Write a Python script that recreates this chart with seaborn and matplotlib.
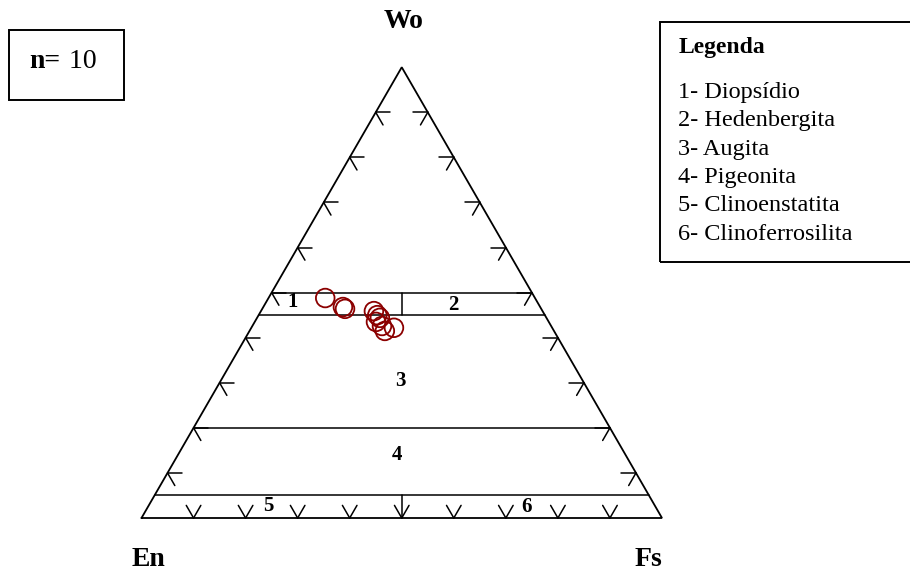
import numpy as np
import pandas as pd
import seaborn as sns
import matplotlib.pyplot as plt
from matplotlib.patches import Rectangle

# Pyroxene compositions (mol %), Wo-En-Fs
wo = [48.8, 46.8, 46.4, 45.9, 45.0, 44.4, 43.5, 42.6, 41.5, 42.2]
en = [40.3, 37.9, 37.7, 32.4, 32.2, 32.0, 33.2, 32.5, 32.5, 30.4]
fs = [10.9, 15.3, 15.9, 21.7, 22.8, 23.6, 23.3, 24.9, 26.0, 27.4]

field_labels = ["1", "2", "3", "4", "5", "6"]
legend_title = "Legenda"
legend_items = ["1- Diopsídio", "2- Hedenbergita", "3- Augita",
                "4- Pigeonita", "5- Clinoenstatita", "6- Clinoferrosilita"]
apex_labels = ["Wo", "En", "Fs"]
tick_fracs = [0.1, 0.2, 0.3, 0.4, 0.5, 0.6, 0.7, 0.8, 0.9]
field_bounds = [0.5, 0.45, 0.2, 0.05]

H = np.sqrt(3) / 2


def tern_xy(w, f):
    """Ternary (Wo, Fs) fractions -> cartesian with En at (0,0), Fs at (1,0)."""
    w = np.asarray(w, dtype=float)
    f = np.asarray(f, dtype=float)
    return f + w / 2, w * H


sns.set_theme(style="white")
plt.rcParams["font.family"] = ["Liberation Serif", "DejaVu Serif"]
plt.rcParams["text.color"] = "black"

fig = plt.figure(figsize=(9.1, 5.75), dpi=100)
ax = fig.add_axes([0, 0, 1, 1])
S = 520.5
ax.set_xlim(-141.5 / S, (910 - 141.5) / S)
ax.set_ylim((518 - 575) / S, 518 / S)
ax.axis("off")


def px(x, y):
    return (x - 141.5) / S, (518 - y) / S


lw = 1.1
ax.plot([0, 1, 0.5, 0], [0, 0, H, 0], color="black", lw=1.3, solid_joinstyle="miter")

# field boundaries (constant Wo)
for w in field_bounds:
    ax.plot([w / 2, 1 - w / 2], [w * H, w * H], color="black", lw=lw)
# Di-Hd and Cen-Cfs dividers (En = Fs)
ax.plot([0.5, 0.5], [0.45 * H, 0.5 * H], color="black", lw=lw)
ax.plot([0.5, 0.5], [0.0, 0.05 * H], color="black", lw=lw)

# tick marks along the three sides
L = 0.028
c60, s60 = 0.5, H
for t in tick_fracs:
    # left side (Fs = 0)
    x0, y0 = t / 2, t * H
    ax.plot([x0, x0 + L], [y0, y0], color="black", lw=lw)
    ax.plot([x0, x0 + L * c60], [y0, y0 - L * s60], color="black", lw=lw)
    # right side (En = 0)
    x0, y0 = 1 - t / 2, t * H
    ax.plot([x0, x0 - L], [y0, y0], color="black", lw=lw)
    ax.plot([x0, x0 - L * c60], [y0, y0 - L * s60], color="black", lw=lw)
    # base (Wo = 0)
    x0, y0 = t, 0.0
    ax.plot([x0, x0 - L * c60], [y0, y0 + L * s60], color="black", lw=lw)
    ax.plot([x0, x0 + L * c60], [y0, y0 + L * s60], color="black", lw=lw)

# analysed samples
xs, ys = tern_xy(np.array(wo) / 100, np.array(fs) / 100)
df = pd.DataFrame({"x": xs, "y": ys})
sns.scatterplot(data=df, x="x", y="y", ax=ax, marker="o", s=180,
                facecolors="none", edgecolors="#8B0000", linewidth=1.3,
                legend=False, zorder=5)

# field numbers
field_pos = [(293, 302), (453, 305), (400, 381), (397, 455), (268, 506), (527, 507)]
for lab, (x, y) in zip(field_labels, field_pos):
    ax.text(*px(x, y), lab, ha="center", va="center", fontsize=15,
            fontweight="bold", color="black")

# apex labels
for lab, (x, y) in zip(apex_labels, [(404, 22), (148, 560), (648, 560)]):
    ax.text(*px(x, y), lab, ha="center", va="center", fontsize=20,
            fontweight="bold", color="black")

# sample count box
fig.patches.append(Rectangle((8.5 / 910, 1 - 100 / 575), 116 / 910, 70 / 575,
                             transform=fig.transFigure, fill=False,
                             edgecolor="black", lw=1.4))
ax.text(*px(29, 68), "n=", ha="left", va="baseline", fontsize=20,
        fontweight="bold", color="black")
ax.text(*px(62, 68), " 10", ha="left", va="baseline", fontsize=20, color="black")

# legend box
fig.patches.append(Rectangle((660 / 910, 1 - 262 / 575), 260 / 910, 240 / 575,
                             transform=fig.transFigure, fill=False,
                             edgecolor="black", lw=1.4, clip_on=False))
ax.text(*px(679, 53), legend_title, ha="left", va="baseline", fontsize=17,
        fontweight="bold", color="black")
for i, item in enumerate(legend_items):
    ax.text(*px(678, 98 + i * 28.3), item, ha="left", va="baseline",
            fontsize=17.5, color="black")

fig.savefig("out.png", dpi=100)
